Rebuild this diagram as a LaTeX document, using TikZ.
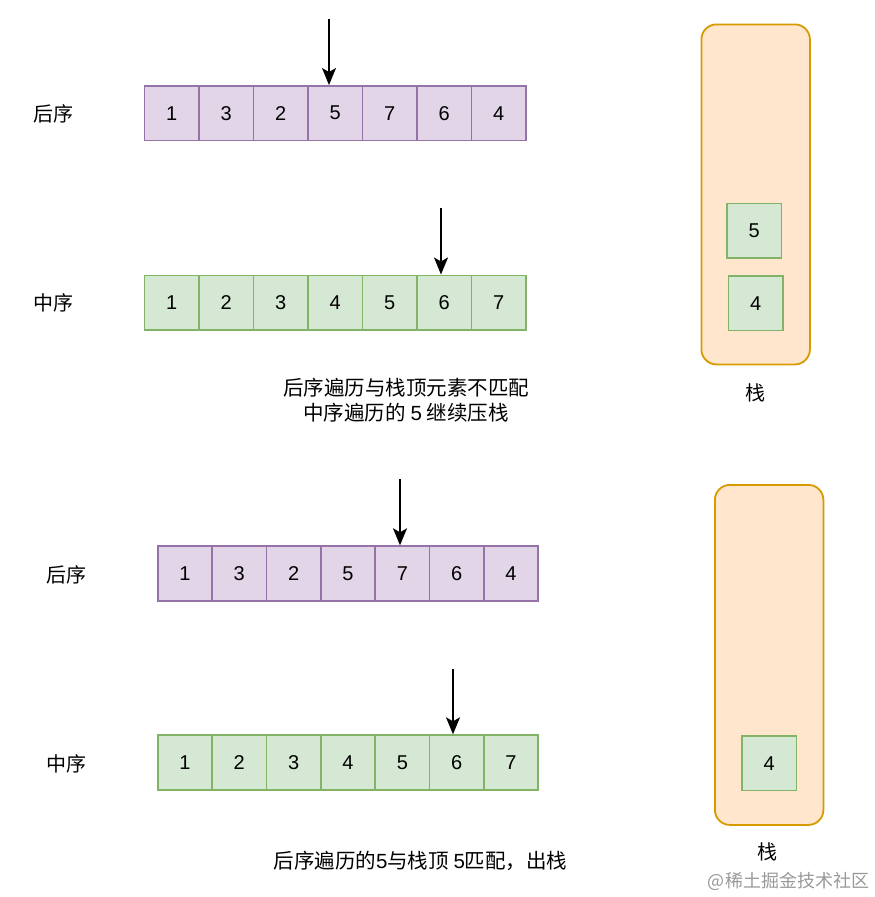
\documentclass[tikz,border=0pt]{standalone}
\usepackage{fontspec}
\setmainfont{Liberation Sans}
\newfontfamily\cjk{Noto Sans CJK SC}
\usetikzlibrary{arrows.meta}
\definecolor{pfill}{HTML}{E1D5E7}
\definecolor{pdraw}{HTML}{9673A6}
\definecolor{gfill}{HTML}{D5E8D4}
\definecolor{gdraw}{HTML}{82B366}
\definecolor{ofill}{HTML}{FFE6CC}
\definecolor{odraw}{HTML}{D79B00}
\newcommand\dig[1]{{\rmfamily #1}}
\tikzset{
  cellbase/.style={line width=1.8pt, minimum width=54.5pt, minimum height=54.5pt, inner sep=0pt, anchor=north west, font=\fontsize{20}{20}\selectfont},
  cellp/.style={cellbase, draw=pdraw, fill=pfill},
  cellg/.style={cellbase, draw=gdraw, fill=gfill},
  stackbox/.style={draw=odraw, fill=ofill, line width=1.8pt, rounded corners=15pt, anchor=north west, inner sep=0pt},
  lab/.style={font=\cjk\fontsize{20}{20}\selectfont},
  captext/.style={align=center, font=\cjk\fontsize{20.5}{25}\selectfont},
  arr/.style={line width=1.7pt, -{Stealth[length=17pt, width=14pt, inset=4pt]}},
}
\begin{document}
\begin{tikzpicture}[x=1pt,y=-1pt]
\useasboundingbox (0,0) rectangle (875,897);

% ---------- top half ----------
\node[lab] (l1) at (54,114) {后序};
\foreach \v [count=\i] in {1,3,2,5,7,6,4}
  \node[cellp] (pa\i) at ({143.5+(\i-1)*54.5},85) {\v};
\node[lab] (l2) at (54,303) {中序};
\foreach \v [count=\i] in {1,2,3,4,5,6,7}
  \node[cellg] (ga\i) at ({143.5+(\i-1)*54.5},274.5) {\v};

\coordinate (ta1) at (329,18.5);
\draw[arr] (ta1) -- (ta1 |- pa4.north);
\coordinate (ta2) at (441,208);
\draw[arr] (ta2) -- (ta2 |- ga6.north);

\node[captext] (c1) at (406,400.5) {后序遍历与栈顶元素不匹配\\中序遍历的 \dig{5} 继续压栈};

\node[stackbox, minimum width=108.5pt, minimum height=340pt] (st1) at (700.5,23.5) {};
\node[cellg] (s15) at (726,202.5) {5};
\node[cellg] (s14) at (727.5,275) {4};
\node[lab] (sl1) at (755.5,392.5) {栈};

% ---------- bottom half ----------
\node[lab] (l3) at (66,575) {后序};
\foreach \v [count=\i] in {1,3,2,5,7,6,4}
  \node[cellp] (pb\i) at ({156.8+(\i-1)*54.35},545.3) {\v};
\node[lab] (l4) at (66,764) {中序};
\foreach \v [count=\i] in {1,2,3,4,5,6,7}
  \node[cellg] (gb\i) at ({156.8+(\i-1)*54.35},734.3) {\v};

\coordinate (tb1) at (400,479);
\draw[arr] (tb1) -- (tb1 |- pb5.north);
\coordinate (tb2) at (453,669);
\draw[arr] (tb2) -- (tb2 |- gb6.north);

\node[captext] (c2) at (420.5,860.5) {后序遍历的\dig{5}与栈顶 \dig{5}匹配，出栈};

\node[stackbox, minimum width=108.5pt, minimum height=340pt] (st2) at (714,484) {};
\node[cellg] (s24) at (741,735) {4};
\node[lab] (sl2) at (767.5,852) {栈};

\node[font=\cjk\fontsize{18}{18}\selectfont, text=black!40] (wm) at (788.5,881) {@稀土掘金技术社区};
\end{tikzpicture}
\end{document}
